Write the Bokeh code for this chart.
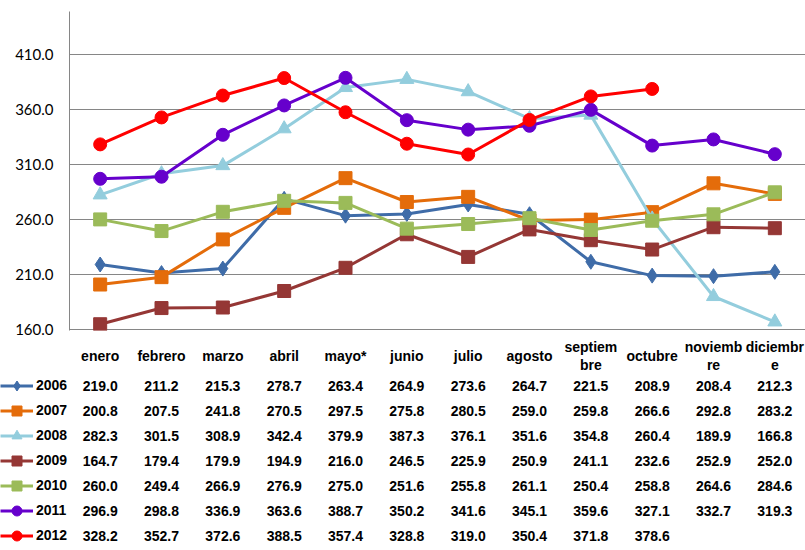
from bokeh.plotting import figure
from bokeh.models import (ColumnDataSource, FactorRange, Range1d, FixedTicker,
                          NumeralTickFormatter, Legend, LegendItem)
from bokeh.layouts import column
from bokeh.core.properties import value
from bokeh.embed import file_html
from bokeh.resources import INLINE

# ---------------- data ----------------
months = ["enero", "febrero", "marzo", "abril", "mayo*", "junio", "julio",
          "agosto", "septiembre", "octubre", "noviembre", "diciembre"]
month_labels = ["enero", "febrero", "marzo", "abril", "mayo*", "junio", "julio",
                "agosto", "septiem\nbre", "octubre", "noviemb\nre", "diciembr\ne"]
years = ["2006", "2007", "2008", "2009", "2010", "2011", "2012"]

v2006 = [219.0, 211.2, 215.3, 278.7, 263.4, 264.9, 273.6, 264.7, 221.5, 208.9, 208.4, 212.3]
v2007 = [200.8, 207.5, 241.8, 270.5, 297.5, 275.8, 280.5, 259.0, 259.8, 266.6, 292.8, 283.2]
v2008 = [282.3, 301.5, 308.9, 342.4, 379.9, 387.3, 376.1, 351.6, 354.8, 260.4, 189.9, 166.8]
v2009 = [164.7, 179.4, 179.9, 194.9, 216.0, 246.5, 225.9, 250.9, 241.1, 232.6, 252.9, 252.0]
v2010 = [260.0, 249.4, 266.9, 276.9, 275.0, 251.6, 255.8, 261.1, 250.4, 258.8, 264.6, 284.6]
v2011 = [296.9, 298.8, 336.9, 363.6, 388.7, 350.2, 341.6, 345.1, 359.6, 327.1, 332.7, 319.3]
v2012 = [328.2, 352.7, 372.6, 388.5, 357.4, 328.8, 319.0, 350.4, 371.8, 378.6]

y_ticks = [160, 210, 260, 310, 360, 410]

series = [v2006, v2007, v2008, v2009, v2010, v2011, v2012]
colors = ["#3F6CA8", "#E46C0A", "#93CDDD", "#953735", "#9BBB59", "#6600CC", "#FF0000"]
markers = ["diamond", "square", "triangle", "square", "square", "circle", "circle"]
msizes = [15, 13, 14, 13, 13, 13, 13]

GRID = "#868686"
TABLE_FONT = "Liberation Sans"
TABLE_SIZE = "14px"

W = 805
LEFT = 69
CAT_W = (W - LEFT) / len(months)

# ---------------- chart ----------------
xr = FactorRange(*months)
p = figure(width=W, height=340, x_range=xr, y_range=Range1d(159, 449),
           output_backend="svg", toolbar_location=None, x_axis_location=None,
           min_border_left=LEFT, min_border_right=0, min_border_top=11,
           min_border_bottom=10)
p.frame_align = False
p.outline_line_color = None
p.xgrid.visible = False
p.ygrid.ticker = FixedTicker(ticks=y_ticks)
p.ygrid.grid_line_color = GRID
p.ygrid.grid_line_width = 1
p.yaxis.ticker = FixedTicker(ticks=y_ticks)
p.yaxis.formatter = NumeralTickFormatter(format="0.0")
p.yaxis.major_tick_out = 0
p.yaxis.major_tick_in = 0
p.yaxis.minor_tick_line_color = None
p.yaxis.axis_line_color = GRID
p.yaxis.major_label_text_font = "Lato"
p.yaxis.major_label_text_font_size = "15px"
p.yaxis.major_label_text_color = "#000000"
p.yaxis.major_label_standoff = 16

for yr, vals, c, m, s in zip(years, series, colors, markers, msizes):
    src = ColumnDataSource(dict(x=months[:len(vals)], y=vals))
    p.line("x", "y", source=src, line_color=c, line_width=3)
    p.scatter("x", "y", source=src, marker=m, size=s, fill_color=c, line_color=c)

# ---------------- data table ----------------
# table columns are indexed by month position; the space left of the first
# column (same width as the chart's y-axis area) holds the legend keys
t = figure(width=W, height=210,
           x_range=Range1d(-0.5 - LEFT / CAT_W, len(months) - 0.5),
           y_range=Range1d(6.6, -1.8),
           output_backend="svg", toolbar_location=None,
           x_axis_location=None, y_axis_location=None,
           min_border_left=0, min_border_right=0, min_border_top=0,
           min_border_bottom=0)
t.frame_align = False
t.outline_line_color = None
t.grid.visible = False

HEADER_Y = -1.19
LINE_OFF = 0.36
hx, hy, ht = [], [], []
for j, lab in enumerate(month_labels):
    parts = lab.split("\n")
    if len(parts) == 1:
        hx.append(j); hy.append(HEADER_Y); ht.append(parts[0])
    else:
        hx += [j, j]; hy += [HEADER_Y - LINE_OFF, HEADER_Y + LINE_OFF]; ht += parts
t.text(x=hx, y=hy, text=ht, text_align="center", text_baseline="middle",
       text_font=value(TABLE_FONT), text_font_style="bold",
       text_font_size=TABLE_SIZE, text_color="#000000")

cx, cy, ct = [], [], []
for i, vals in enumerate(series):
    for j, v in enumerate(vals):
        cx.append(j); cy.append(i); ct.append(f"{v:.1f}")
t.text(x=cx, y=cy, text=ct, text_align="center", text_baseline="middle",
       text_font=value(TABLE_FONT), text_font_style="bold",
       text_font_size=TABLE_SIZE, text_color="#000000")

# legend keys (their renderers sit outside the table's visible y-range)
items = []
for yr, vals, c, m in zip(years, series, colors, markers):
    ksrc = ColumnDataSource(dict(x=list(range(len(vals))), y=vals))
    lr = t.line("x", "y", source=ksrc, line_color=c, line_width=3)
    sr = t.scatter("x", "y", source=ksrc, marker=m, size=10, fill_color=c, line_color=c)
    items.append(LegendItem(label=yr, renderers=[lr, sr]))
leg = Legend(items=items, location=(0, 2.5), orientation="vertical",
             glyph_width=33, glyph_height=25, label_height=25, spacing=0,
             padding=0, margin=0, border_line_color=None,
             background_fill_alpha=0, label_standoff=3,
             label_text_font=TABLE_FONT, label_text_font_style="bold",
             label_text_font_size=TABLE_SIZE, label_text_color="#000000")
t.add_layout(leg)

layout = column(p, t, spacing=0)
open("out.html", "w").write(file_html(layout, INLINE))
